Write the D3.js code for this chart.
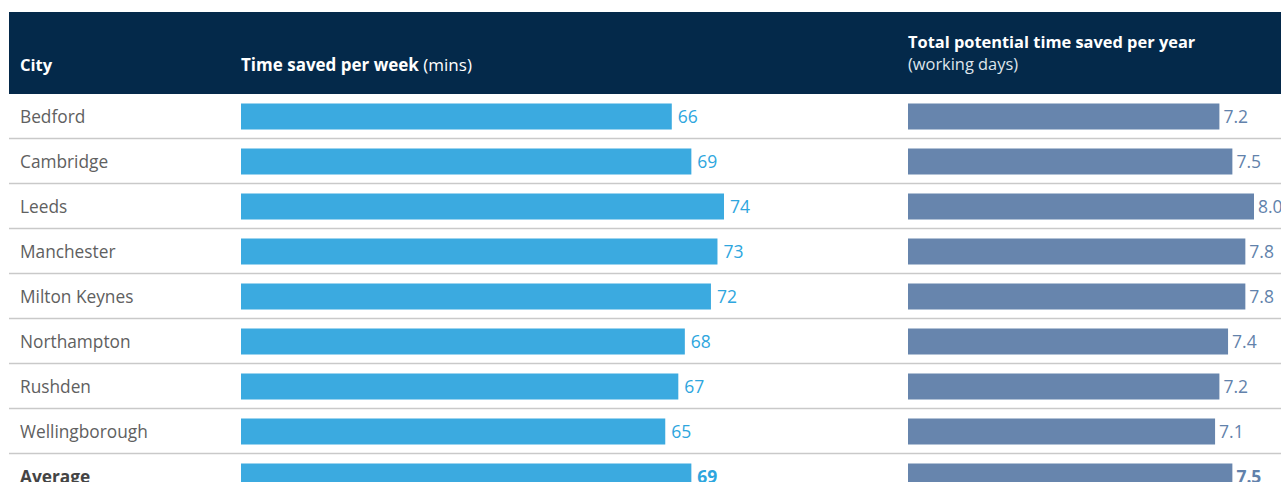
<!DOCTYPE html>
<html><head><meta charset="utf-8">
<script src="https://cdn.jsdelivr.net/npm/d3@7"></script>
<style>
html,body{margin:0;padding:0;background:#fff;}
svg{display:block;font-family:"Open Sans",Lato,sans-serif;}
</style></head>
<body><svg id="c" width="1281" height="482"></svg>
<script>
const cities = ["Bedford","Cambridge","Leeds","Manchester","Milton Keynes","Northampton","Rushden","Wellingborough","Average"];
const minsPerWeek = [66,69,74,73,72,68,67,65,69];
const daysPerYear = [7.2,7.5,8.0,7.8,7.8,7.4,7.2,7.1,7.5];
const daysLabels = ["7.2","7.5","8.0","7.8","7.8","7.4","7.2","7.1","7.5"];

const svg = d3.select("#c");
const rowTop = 93.5, rowH = 45;
const y = d3.scaleBand().domain(cities).range([rowTop, rowTop + rowH*cities.length]).paddingInner(0).paddingOuter(0);
const xL = d3.scaleLinear().domain([0,74]).range([241,724]);
const xR = d3.scaleLinear().domain([0,8]).range([908,1254]);

// header
svg.append("rect").attr("x",9).attr("y",12).attr("width",1272).attr("height",82).attr("fill","#04294a");
const hdr = svg.append("g").attr("fill","#fff");
hdr.append("text").attr("x",20).attr("y",71).style("font-size","16.5px").style("font-weight","700").text("City");
const t2 = hdr.append("text").attr("x",241).attr("y",71).style("font-size","17px");
t2.append("tspan").style("font-weight","700").text("Time saved per week ");
t2.append("tspan").style("font-weight","400").text("(mins)");
hdr.append("text").attr("x",908).attr("y",48).style("font-size","16.4px").style("font-weight","700").text("Total potential time saved per year");
hdr.append("text").attr("x",908).attr("y",70).style("font-size","16.4px").style("font-weight","400").attr("fill","#dfe5ec").text("(working days)");

// separators
svg.selectAll("line.sep").data(cities.slice(0,-1)).join("line")
  .attr("x1",9).attr("x2",1281)
  .attr("y1",d=>y(d)+rowH).attr("y2",d=>y(d)+rowH)
  .attr("stroke","#c9c9c9").attr("stroke-width",1.5);

const rows = svg.selectAll("g.row").data(cities.map((c,i)=>({c,i}))).join("g").attr("class","row");
rows.append("text").attr("x",20).attr("y",d=>y(d.c)+29)
  .style("font-size","17.3px").attr("fill", d=>d.c==="Average"?"#444":"#606060")
  .style("font-weight",d=>d.c==="Average"?"700":"400").text(d=>d.c);
rows.append("rect").attr("x",xL(0)).attr("y",d=>y(d.c)+10).attr("height",26)
  .attr("width",d=>xL(minsPerWeek[d.i])-xL(0)).attr("fill","#3baae0");
rows.append("text").attr("x",d=>xL(minsPerWeek[d.i])+6).attr("y",d=>y(d.c)+29)
  .style("font-size","17.5px").attr("fill","#2ea6de")
  .style("font-weight",d=>d.c==="Average"?"700":"400").text(d=>minsPerWeek[d.i]);
rows.append("rect").attr("x",xR(0)).attr("y",d=>y(d.c)+10).attr("height",26)
  .attr("width",d=>xR(daysPerYear[d.i])-xR(0)).attr("fill","#6785ad");
rows.append("text").attr("x",d=>xR(daysPerYear[d.i])+4).attr("y",d=>y(d.c)+29)
  .style("font-size","17.5px").attr("fill","#6282ab")
  .style("font-weight",d=>d.c==="Average"?"700":"400").text(d=>daysLabels[d.i]);
</script></body></html>
